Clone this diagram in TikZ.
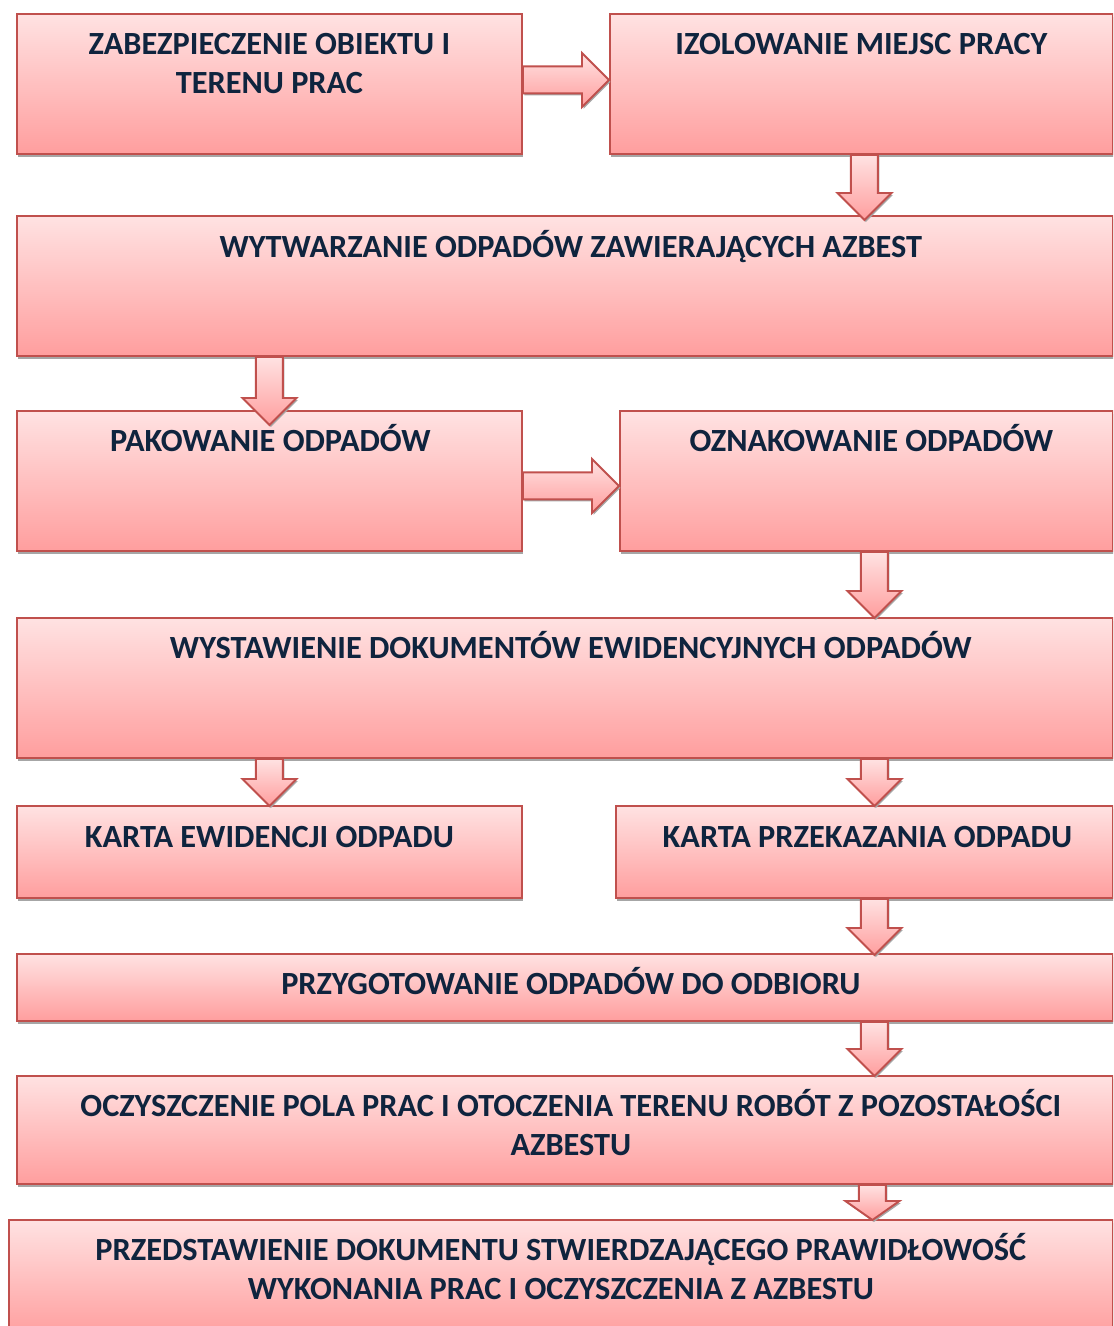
\documentclass[tikz,border=0pt]{standalone}
\usepackage{fontspec}
\setmainfont{Carlito}
\usetikzlibrary{calc,shadows}

\definecolor{boxred}{RGB}{192,80,77}
\definecolor{pinktop}{RGB}{255,226,226}
\definecolor{pinkbot}{RGB}{255,158,158}
\definecolor{navy}{RGB}{15,36,62}

\tikzset{
  box/.style={draw=boxred, line width=1.1pt, top color=pinktop, bottom color=pinkbot,
    anchor=north west, inner sep=0pt,
    drop shadow={shadow xshift=0.02cm, shadow yshift=-0.06cm, fill=gray!70, opacity=1}},
  blk/.style={draw=boxred, line width=1.1pt, top color=pinktop, bottom color=pinkbot,
    drop shadow={shadow xshift=0.03cm, shadow yshift=-0.04cm, fill=gray!70, opacity=1}},
  lbl/.style={font=\bfseries\fontsize{18.4}{22}\selectfont, text=navy, align=center, inner sep=0pt}
}

% block arrow from #2 to #3, #1 = head length
\newcommand{\blockarrow}[3][0.54cm]{%
  \coordinate (ah) at ($(#3)!#1!(#2)$);
  \draw[blk] ($(#2)!0.27cm!90:(#3)$) -- ($(ah)!0.27cm!90:(#3)$) -- ($(ah)!0.54cm!90:(#3)$)
    -- (#3) -- ($(ah)!0.54cm!-90:(#3)$) -- ($(ah)!0.27cm!-90:(#3)$) -- ($(#2)!0.27cm!-90:(#3)$) -- cycle;
}

\begin{document}
\begin{tikzpicture}[x=0.02cm, y=-0.02cm]

\useasboundingbox (0,0) rectangle (1113,1326);
\clip (0,0) rectangle (1113,1326);

%boxes
\node[box, minimum width=10.1cm, minimum height=2.8cm] (b1) at (16,13) {};
\node[box, minimum width=10.06cm, minimum height=2.8cm] (b2) at (609,13) {};
\node[box, minimum width=21.92cm, minimum height=2.8cm] (b3) at (16,215) {};
\node[box, minimum width=10.1cm, minimum height=2.8cm] (b4) at (16,410) {};
\node[box, minimum width=9.86cm, minimum height=2.8cm] (b5) at (619,410) {};
\node[box, minimum width=21.92cm, minimum height=2.8cm] (b6) at (16,617) {};
\node[box, minimum width=10.1cm, minimum height=1.84cm] (b7) at (16,805) {};
\node[box, minimum width=9.94cm, minimum height=1.84cm] (b8) at (615,805) {};
\node[box, minimum width=21.92cm, minimum height=1.34cm] (b9) at (16,953) {};
\node[box, minimum width=21.92cm, minimum height=2.16cm] (b10) at (16,1075) {};
\node[box, minimum width=22.08cm, minimum height=2.32cm] (b11) at (8,1219) {};

%arrow ends
\coordinate (a1s) at ($(b1.east)+(0,-4)$);
\coordinate (a1e) at ($(b2.west)+(0,-4)$);
\coordinate (a2s) at ($(b2.south)+(3,0)$);
\coordinate (a2e) at ($(b3.north -| b2.south)+(3,5)$);
\coordinate (a3s) at (b3.south -| b4.north);
\coordinate (a3e) at ($(b4.north)+(0,15)$);
\coordinate (a4s) at ($(b4.east)+(0,5)$);
\coordinate (a4e) at ($(b5.west)+(0,5)$);
\coordinate (a5s) at ($(b5.south)+(8,0)$);
\coordinate (a5e) at ($(b6.north -| b5.south)+(8,1)$);
\coordinate (a6s) at (b6.south -| b7.north);
\coordinate (a6e) at ($(b7.north)+(0,1)$);
\coordinate (a7s) at ($(b6.south -| b8.north)+(10,0)$);
\coordinate (a7e) at ($(b8.north)+(10,1)$);
\coordinate (a8s) at ($(b8.south)+(10,0)$);
\coordinate (a8e) at ($(b9.north -| b8.south)+(10,2)$);
\coordinate (a9s) at ($(b9.south -| b8.south)+(10,0)$);
\coordinate (a9e) at ($(b10.north -| b8.south)+(10,1)$);
\coordinate (a10s) at ($(b10.south -| b8.south)+(8,0)$);
\coordinate (a10e) at ($(b11.north -| b8.south)+(8,1)$);

%arrows
\blockarrow{a1s}{a1e}
\blockarrow{a2s}{a2e}
\blockarrow{a3s}{a3e}
\blockarrow{a4s}{a4e}
\blockarrow{a5s}{a5e}
\blockarrow{a6s}{a6e}
\blockarrow{a7s}{a7e}
\blockarrow{a8s}{a8e}
\blockarrow{a9s}{a9e}
\blockarrow[0.38cm]{a10s}{a10e}

%texts
\node[lbl] (t1) at ($(b1.north)+(0,53)$) {\strut ZABEZPIECZENIE OBIEKTU I\\\strut TERENU PRAC};
\node[lbl] (t2) at ($(b2.north)+(0,33.5)$) {\strut IZOLOWANIE MIEJSC PRACY};
\node[lbl] (t3) at ($(b3.north)+(6,34.5)$) {\strut WYTWARZANIE ODPADÓW ZAWIERAJĄCYCH AZBEST};
\node[lbl] (t4) at ($(b4.north)+(1,33.5)$) {\strut PAKOWANIE ODPADÓW};
\node[lbl] (t5) at ($(b5.north)+(5,33.5)$) {\strut OZNAKOWANIE ODPADÓW};
\node[lbl] (t6) at ($(b6.north)+(6,33.5)$) {\strut WYSTAWIENIE DOKUMENTÓW EWIDENCYJNYCH ODPADÓW};
\node[lbl] (t7) at ($(b7.north)+(0,34.5)$) {\strut KARTA EWIDENCJI ODPADU};
\node[lbl] (t8) at ($(b8.north)+(3,34.5)$) {\strut KARTA PRZEKAZANIA ODPADU};
\node[lbl] (t9) at ($(b9.north)+(6,33.5)$) {\strut PRZYGOTOWANIE ODPADÓW DO ODBIORU};
\node[lbl] (t10) at ($(b10.north)+(6,53)$) {\strut OCZYSZCZENIE POLA PRAC I OTOCZENIA TERENU ROBÓT Z POZOSTAŁOŚCI\\\strut AZBESTU};
\node[lbl] (t11) at ($(b11.north)+(0,53)$) {\strut PRZEDSTAWIENIE DOKUMENTU STWIERDZAJĄCEGO PRAWIDŁOWOŚĆ\\\strut WYKONANIA PRAC I OCZYSZCZENIA Z AZBESTU};

\end{tikzpicture}
\end{document}
